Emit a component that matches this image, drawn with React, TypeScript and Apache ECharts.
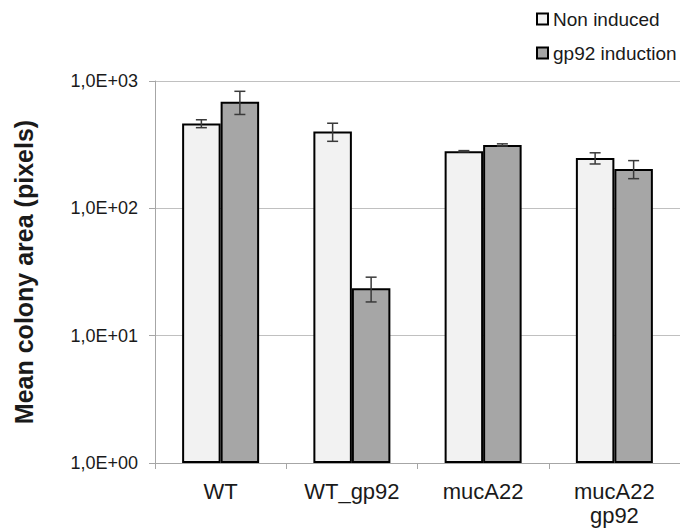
import React, { useEffect, useRef } from "react";
import * as echarts from "echarts";

const categories = ["WT", "WT_gp92", "mucA22", "mucA22\ngp92"];
const seriesNames = ["Non induced", "gp92 induction"];
const nonInduced = [463, 401, 281, 248];
const nonInducedErr = [33, 65, 3, 25];
const gp92Induction = [688, 23.6, 315, 204];
const gp92InductionErr = [142, 5.2, 6, 33];

const BAR_W = 38.5;
const FONT = "'Liberation Sans', Arial, sans-serif";

function errData(means: number[], errs: number[]) {
  return means.map((m, i) => [i, m - errs[i], m + errs[i]]);
}

function makeErr(name: string, means: number[], errs: number[], offset: number) {
  return {
    type: "custom",
    name: name + " err",
    silent: true,
    z: 10,
    data: errData(means, errs),
    encode: { x: 0, y: [1, 2] },
    renderItem: (params: any, api: any) => {
      const c = api.value(0);
      const lo = api.coord([c, api.value(1)]);
      const hi = api.coord([c, api.value(2)]);
      const x = lo[0] + offset;
      const cap = 5.5;
      const style = { stroke: "#3a3a3a", lineWidth: 1.5 };
      return {
        type: "group",
        children: [
          { type: "line", shape: { x1: x, y1: lo[1], x2: x, y2: hi[1] }, style },
          { type: "line", shape: { x1: x - cap, y1: lo[1], x2: x + cap, y2: lo[1] }, style },
          { type: "line", shape: { x1: x - cap, y1: hi[1], x2: x + cap, y2: hi[1] }, style },
        ],
      };
    },
  };
}

export default function App() {
  const ref = useRef<HTMLDivElement>(null);
  useEffect(() => {
    document.body.style.margin = "0";
    const chart = echarts.init(ref.current!, null, { renderer: "svg" });
    chart.setOption({
      animation: false,
      backgroundColor: "#ffffff",
      legend: {
        data: seriesNames,
        orient: "vertical",
        left: 531,
        top: 3,
        itemWidth: 11,
        itemHeight: 11,
        itemGap: 12,
        icon: "rect",
        textStyle: { fontFamily: FONT, fontSize: 19, color: "#1a1a1a", lineHeight: 22 },
      },
      grid: { left: 155, top: 81, width: 528, height: 382 },
      xAxis: {
        type: "category",
        data: categories,
        axisLine: { lineStyle: { color: "#a6a6a6", width: 1 } },
        axisTick: { show: true, length: 6, lineStyle: { color: "#a6a6a6" } },
        axisLabel: {
          fontFamily: FONT,
          fontSize: 22,
          color: "#1a1a1a",
          lineHeight: 24,
          margin: 16,
        },
      },
      yAxis: {
        type: "log",
        logBase: 10,
        min: 1,
        max: 1000,
        name: "Mean colony area (pixels)",
        nameLocation: "middle",
        nameGap: 119,
        nameTextStyle: { fontFamily: FONT, fontSize: 25, fontWeight: "bold", color: "#1a1a1a" },
        axisLine: { show: true, lineStyle: { color: "#a6a6a6", width: 1 } },
        axisTick: { show: true, length: 6, lineStyle: { color: "#a6a6a6" } },
        splitLine: { show: true, lineStyle: { color: "#c0c0c0", width: 1 } },
        axisLabel: {
          fontFamily: FONT,
          fontSize: 18,
          color: "#1a1a1a",
          margin: 17,
          formatter: (v: number) => {
            const e = Math.round(Math.log10(v));
            return "1,0E+" + (e < 10 ? "0" + e : String(e));
          },
        },
      },
      series: [
        {
          type: "bar",
          name: seriesNames[0],
          data: nonInduced,
          barWidth: BAR_W,
          barGap: "0%",
          itemStyle: { color: "#f2f2f2", borderColor: "#000000", borderWidth: 2 },
        },
        {
          type: "bar",
          name: seriesNames[1],
          data: gp92Induction,
          barWidth: BAR_W,
          barGap: "0%",
          itemStyle: { color: "#a6a6a6", borderColor: "#000000", borderWidth: 2 },
        },
        makeErr(seriesNames[0], nonInduced, nonInducedErr, -BAR_W / 2),
        makeErr(seriesNames[1], gp92Induction, gp92InductionErr, BAR_W / 2),
      ],
    });
    return () => chart.dispose();
  }, []);
  return <div ref={ref} style={{ width: 680, height: 528 }} />;
}
